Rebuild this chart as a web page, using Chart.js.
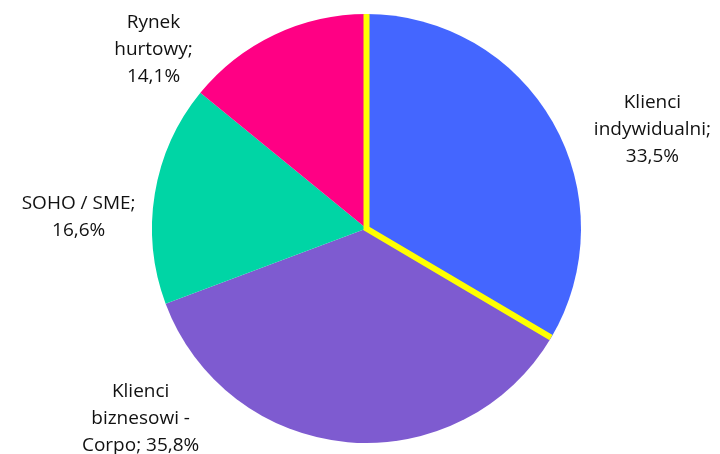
<!DOCTYPE html>
<html>
<head>
<meta charset="utf-8">
<script src="https://cdn.jsdelivr.net/npm/chart.js@4/dist/chart.umd.min.js"></script>
<style>
  html, body { margin: 0; padding: 0; background: #ffffff; }
  #wrap { width: 720px; height: 454px; }
</style>
</head>
<body>
<div id="wrap"><canvas id="pie"></canvas></div>
<script>
// segmenty klientów (udział w %)
const categories = ['Klienci indywidualni', 'Klienci biznesowi - Corpo', 'SOHO / SME', 'Rynek hurtowy'];
const shares = [33.5, 35.8, 16.6, 14.1];
// etykiety rozbite na linie
const labelLines = [
    ['Klienci', 'indywidualni;', '33,5%'],
    ['Klienci', 'biznesowi -', 'Corpo; 35,8%'],
    ['SOHO / SME;', '16,6%'],
    ['Rynek', 'hurtowy;', '14,1%']
];
const sliceColors = ['#4466ff', '#7e5bd0', '#00d5a5', '#ff0084'];

// położenie etykiet względem środka koła (w promieniach)
const labelOffsets = [[1.333, -0.463], [-1.053, 0.885], [-1.342, -0.051], [-0.993, -0.835]];

// żółta krawędź pierwszego wycinka (tylko boki promieniowe)
const yellowEdge = {
    id: 'yellowEdge',
    afterDatasetsDraw(chart) {
        const arc = chart.getDatasetMeta(0).data[0];
        const p = arc.getProps(['x', 'y', 'startAngle', 'endAngle', 'outerRadius'], true);
        const c = chart.ctx;
        c.save();
        c.beginPath();
        c.arc(p.x, p.y, p.outerRadius, 0, Math.PI * 2);
        c.clip();
        c.beginPath();
        c.moveTo(p.x + Math.cos(p.startAngle) * p.outerRadius, p.y + Math.sin(p.startAngle) * p.outerRadius);
        c.lineTo(p.x, p.y);
        c.lineTo(p.x + Math.cos(p.endAngle) * p.outerRadius, p.y + Math.sin(p.endAngle) * p.outerRadius);
        c.lineWidth = 6;
        c.lineJoin = 'miter';
        c.strokeStyle = '#ffff00';
        c.stroke();
        c.restore();
    }
};

// etykiety danych obok koła
const sliceLabels = {
    id: 'sliceLabels',
    afterDraw(chart) {
        const meta = chart.getDatasetMeta(0);
        const c = chart.ctx;
        c.save();
        c.font = '19px "Open Sans", sans-serif';
        c.fillStyle = '#111111';
        c.textAlign = 'center';
        c.textBaseline = 'middle';
        meta.data.forEach((arc, i) => {
            const p = arc.getProps(['x', 'y', 'outerRadius'], true);
            const cx = p.x + labelOffsets[i][0] * p.outerRadius;
            const cy = p.y + labelOffsets[i][1] * p.outerRadius;
            const lines = labelLines[i];
            const lh = 27;
            lines.forEach((t, k) => {
                c.fillText(t, cx, cy + (k - (lines.length - 1) / 2) * lh);
            });
        });
        c.restore();
    }
};

new Chart(document.getElementById('pie'), {
    type: 'pie',
    data: {
        labels: categories,
        datasets: [{
            data: shares,
            backgroundColor: sliceColors,
            borderWidth: 0
        }]
    },
    options: {
        responsive: true,
        maintainAspectRatio: false,
        animation: false,
        layout: { padding: { top: 14, bottom: 11, left: 13, right: 0 } },
        plugins: {
            legend: { display: false },
            tooltip: { enabled: false }
        }
    },
    plugins: [yellowEdge, sliceLabels]
});
</script>
</body>
</html>
